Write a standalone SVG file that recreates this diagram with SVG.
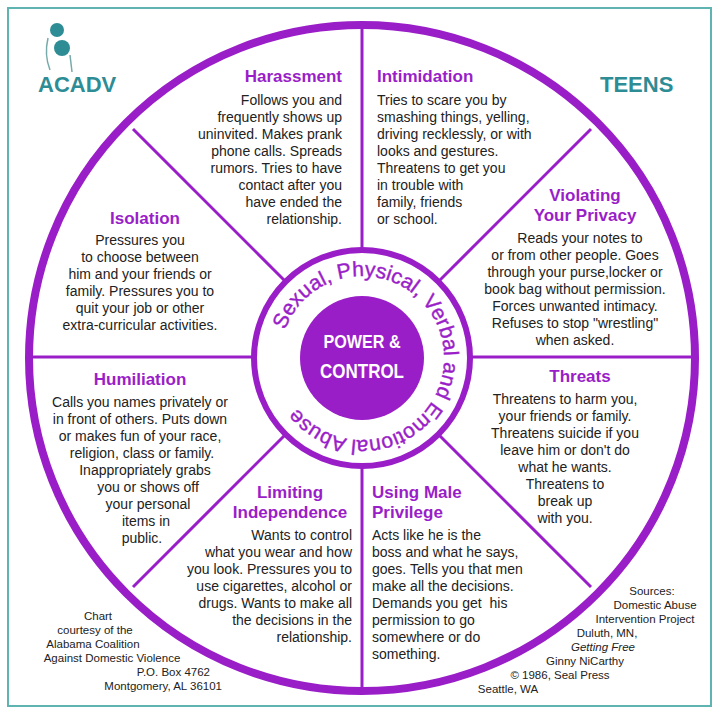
<svg xmlns="http://www.w3.org/2000/svg" width="719" height="720" viewBox="0 0 719 720">
<style>
.b{font-family:"Liberation Sans",Arial,sans-serif;font-size:14px;fill:#222}
.h{font-family:"Liberation Sans",Arial,sans-serif;font-size:17px;font-weight:bold;fill:#9a1ec8}
.s{font-family:"Liberation Sans",Arial,sans-serif;font-size:11.5px;fill:#222}
.sp{stroke:#9a1ec8;stroke-width:3;fill:none}
.m{text-anchor:middle}.e{text-anchor:end}
</style>
<defs><path id="ring" d="M 285 330 A 82 82 0 1 1 291 399"/></defs>
<rect width="719" height="720" fill="#fff"/>
<rect x="8" y="8" width="703" height="698" fill="none" stroke="#5fb3b0" stroke-width="2"/>
<g id="logo">
<circle cx="57" cy="30" r="7" fill="#2e8c95"/>
<circle cx="62" cy="48" r="8" fill="#2e8c95"/>
<path d="M48 38 Q44 55 50 70 M70 55 L72 72" stroke="#7aa" stroke-width="1.5" fill="none"/>
<text x="38" y="92" font-family="Liberation Sans,Arial,sans-serif" font-size="22" font-weight="bold" fill="#2e8c95">ACADV</text>
<text x="600" y="92" font-family="Liberation Sans,Arial,sans-serif" font-size="22" font-weight="bold" fill="#2e8c95">TEENS</text>
</g>
<g id="wheel">
<circle cx="362" cy="358" r="333" fill="none" stroke="#9a1ec8" stroke-width="8"/>
</g>
<g id="connectors">
<line class="sp" x1="362" y1="26" x2="362" y2="250"/>
<line class="sp" x1="362" y1="466" x2="362" y2="690"/>
<line class="sp" x1="30" y1="357" x2="254" y2="357"/>
<line class="sp" x1="470" y1="357" x2="694" y2="357"/>
<line class="sp" x1="133" y1="129" x2="285" y2="281"/>
<line class="sp" x1="591" y1="129" x2="439" y2="281"/>
<line class="sp" x1="133" y1="587" x2="285" y2="435"/>
<line class="sp" x1="591" y1="587" x2="439" y2="435"/>
</g>
<g id="center">
<circle cx="362" cy="358" r="108" fill="#fff" stroke="#9a1ec8" stroke-width="6"/>
<circle cx="362" cy="358" r="62" fill="#9a1ec8"/>
<text x="362" y="348" class="m" font-family="Liberation Sans,Arial,sans-serif" font-size="19" font-weight="bold" fill="#fff" transform="translate(362 0) scale(0.85 1) translate(-362 0)">POWER &amp;</text>
<text x="362" y="378" class="m" font-family="Liberation Sans,Arial,sans-serif" font-size="20" font-weight="bold" fill="#fff" transform="translate(362 0) scale(0.85 1) translate(-362 0)">CONTROL</text>
<text font-family="Liberation Sans,Arial,sans-serif" font-size="21" fill="#9a1ec8" stroke="#9a1ec8" stroke-width="0.4"><textPath href="#ring" textLength="432" lengthAdjust="spacingAndGlyphs">Sexual, Physical, Verbal and Emotional Abuse</textPath></text>
</g>
<g id="harassment">
<text x="342" y="82" class="h e">Harassment</text>
<text class="b e"><tspan x="342" y="105">Follows you and</tspan><tspan x="342" y="122">frequently shows up</tspan><tspan x="342" y="139">uninvited. Makes prank</tspan><tspan x="342" y="156">phone calls. Spreads</tspan><tspan x="342" y="173">rumors. Tries to have</tspan><tspan x="342" y="190">contact after you</tspan><tspan x="342" y="207">have ended the</tspan><tspan x="342" y="224">relationship.</tspan></text>
</g>
<g id="intimidation">
<text x="377" y="82" class="h">Intimidation</text>
<text class="b"><tspan x="377" y="105">Tries to scare you by</tspan><tspan x="377" y="122">smashing things, yelling,</tspan><tspan x="377" y="139">driving recklessly, or with</tspan><tspan x="377" y="156">looks and gestures.</tspan><tspan x="377" y="173">Threatens to get you</tspan><tspan x="377" y="190">in trouble with</tspan><tspan x="377" y="207">family, friends</tspan><tspan x="377" y="224">or school.</tspan></text>
</g>
<g id="privacy">
<text class="h m"><tspan x="585" y="201">Violating</tspan><tspan x="585" y="221">Your Privacy</tspan></text>
<text class="b m"><tspan x="580" y="243">Reads your notes to</tspan><tspan x="575" y="260">or from other people. Goes</tspan><tspan x="575" y="277">through your purse,locker or</tspan><tspan x="575" y="294">book bag without permission.</tspan><tspan x="575" y="311">Forces unwanted intimacy.</tspan><tspan x="575" y="328">Refuses to stop "wrestling"</tspan><tspan x="575" y="345">when asked.</tspan></text>
</g>
<g id="isolation">
<text x="145" y="224" class="h m">Isolation</text>
<text class="b m"><tspan x="140" y="245">Pressures you</tspan><tspan x="140" y="262">to choose between</tspan><tspan x="140" y="279">him and your friends or</tspan><tspan x="140" y="296">family. Pressures you to</tspan><tspan x="140" y="313">quit your job or other</tspan><tspan x="140" y="330">extra-curricular activities.</tspan></text>
</g>
<g id="humiliation">
<text x="140" y="385" class="h m">Humiliation</text>
<text class="b m"><tspan x="140" y="407">Calls you names privately or</tspan><tspan x="140" y="424">in front of others. Puts down</tspan><tspan x="140" y="441">or makes fun of your race,</tspan><tspan x="142" y="458">religion, class or family.</tspan><tspan x="145" y="475">Inappropriately grabs</tspan><tspan x="148" y="492">you or shows off</tspan><tspan x="148" y="509">your personal</tspan><tspan x="146" y="526">items in</tspan><tspan x="142" y="543">public.</tspan></text>
</g>
<g id="threats">
<text x="580" y="382" class="h m">Threats</text>
<text class="b m"><tspan x="565" y="404">Threatens to harm you,</tspan><tspan x="565" y="421">your friends or family.</tspan><tspan x="565" y="438">Threatens suicide if you</tspan><tspan x="565" y="455">leave him or don't do</tspan><tspan x="565" y="472">what he wants.</tspan><tspan x="565" y="489">Threatens to</tspan><tspan x="565" y="506">break up</tspan><tspan x="565" y="523">with you.</tspan></text>
</g>
<g id="limiting">
<text class="h m"><tspan x="290" y="498">Limiting</tspan><tspan x="290" y="518">Independence</tspan></text>
<text class="b e"><tspan x="352" y="540">Wants to control</tspan><tspan x="352" y="557">what you wear and how</tspan><tspan x="352" y="574">you look. Pressures you to</tspan><tspan x="352" y="591">use cigarettes, alcohol or</tspan><tspan x="352" y="608">drugs. Wants to make all</tspan><tspan x="352" y="625">the decisions in the</tspan><tspan x="352" y="642">relationship.</tspan></text>
</g>
<g id="privilege">
<text class="h"><tspan x="372" y="498">Using Male</tspan><tspan x="372" y="518">Privilege</tspan></text>
<text class="b"><tspan x="372" y="540">Acts like he is the</tspan><tspan x="372" y="557">boss and what he says,</tspan><tspan x="372" y="574">goes. Tells you that men</tspan><tspan x="372" y="591">make all the decisions.</tspan><tspan x="372" y="608" xml:space="preserve">Demands you get  his</tspan><tspan x="372" y="625">permission to go</tspan><tspan x="372" y="642">somewhere or do</tspan><tspan x="372" y="659">something.</tspan></text>
</g>
<g id="credits">
<text class="s m"><tspan x="98" y="620">Chart</tspan><tspan x="95" y="634">courtesy of the</tspan><tspan x="93" y="648">Alabama Coalition</tspan><tspan x="112" y="662">Against Domestic Violence</tspan></text>
<text class="s e"><tspan x="210" y="676">P.O. Box 4762</tspan><tspan x="222" y="690">Montgomery, AL 36101</tspan></text>
</g>
<g id="sources">
<text class="s m"><tspan x="652" y="595">Sources:</tspan><tspan x="655" y="609">Domestic Abuse</tspan><tspan x="645" y="623">Intervention Project</tspan><tspan x="607" y="637">Duluth, MN,</tspan><tspan x="603" y="651" font-style="italic">Getting Free</tspan><tspan x="585" y="665">Ginny NiCarthy</tspan><tspan x="560" y="679">© 1986, Seal Press</tspan><tspan x="508" y="693">Seattle, WA</tspan></text>
</g>
</svg>
